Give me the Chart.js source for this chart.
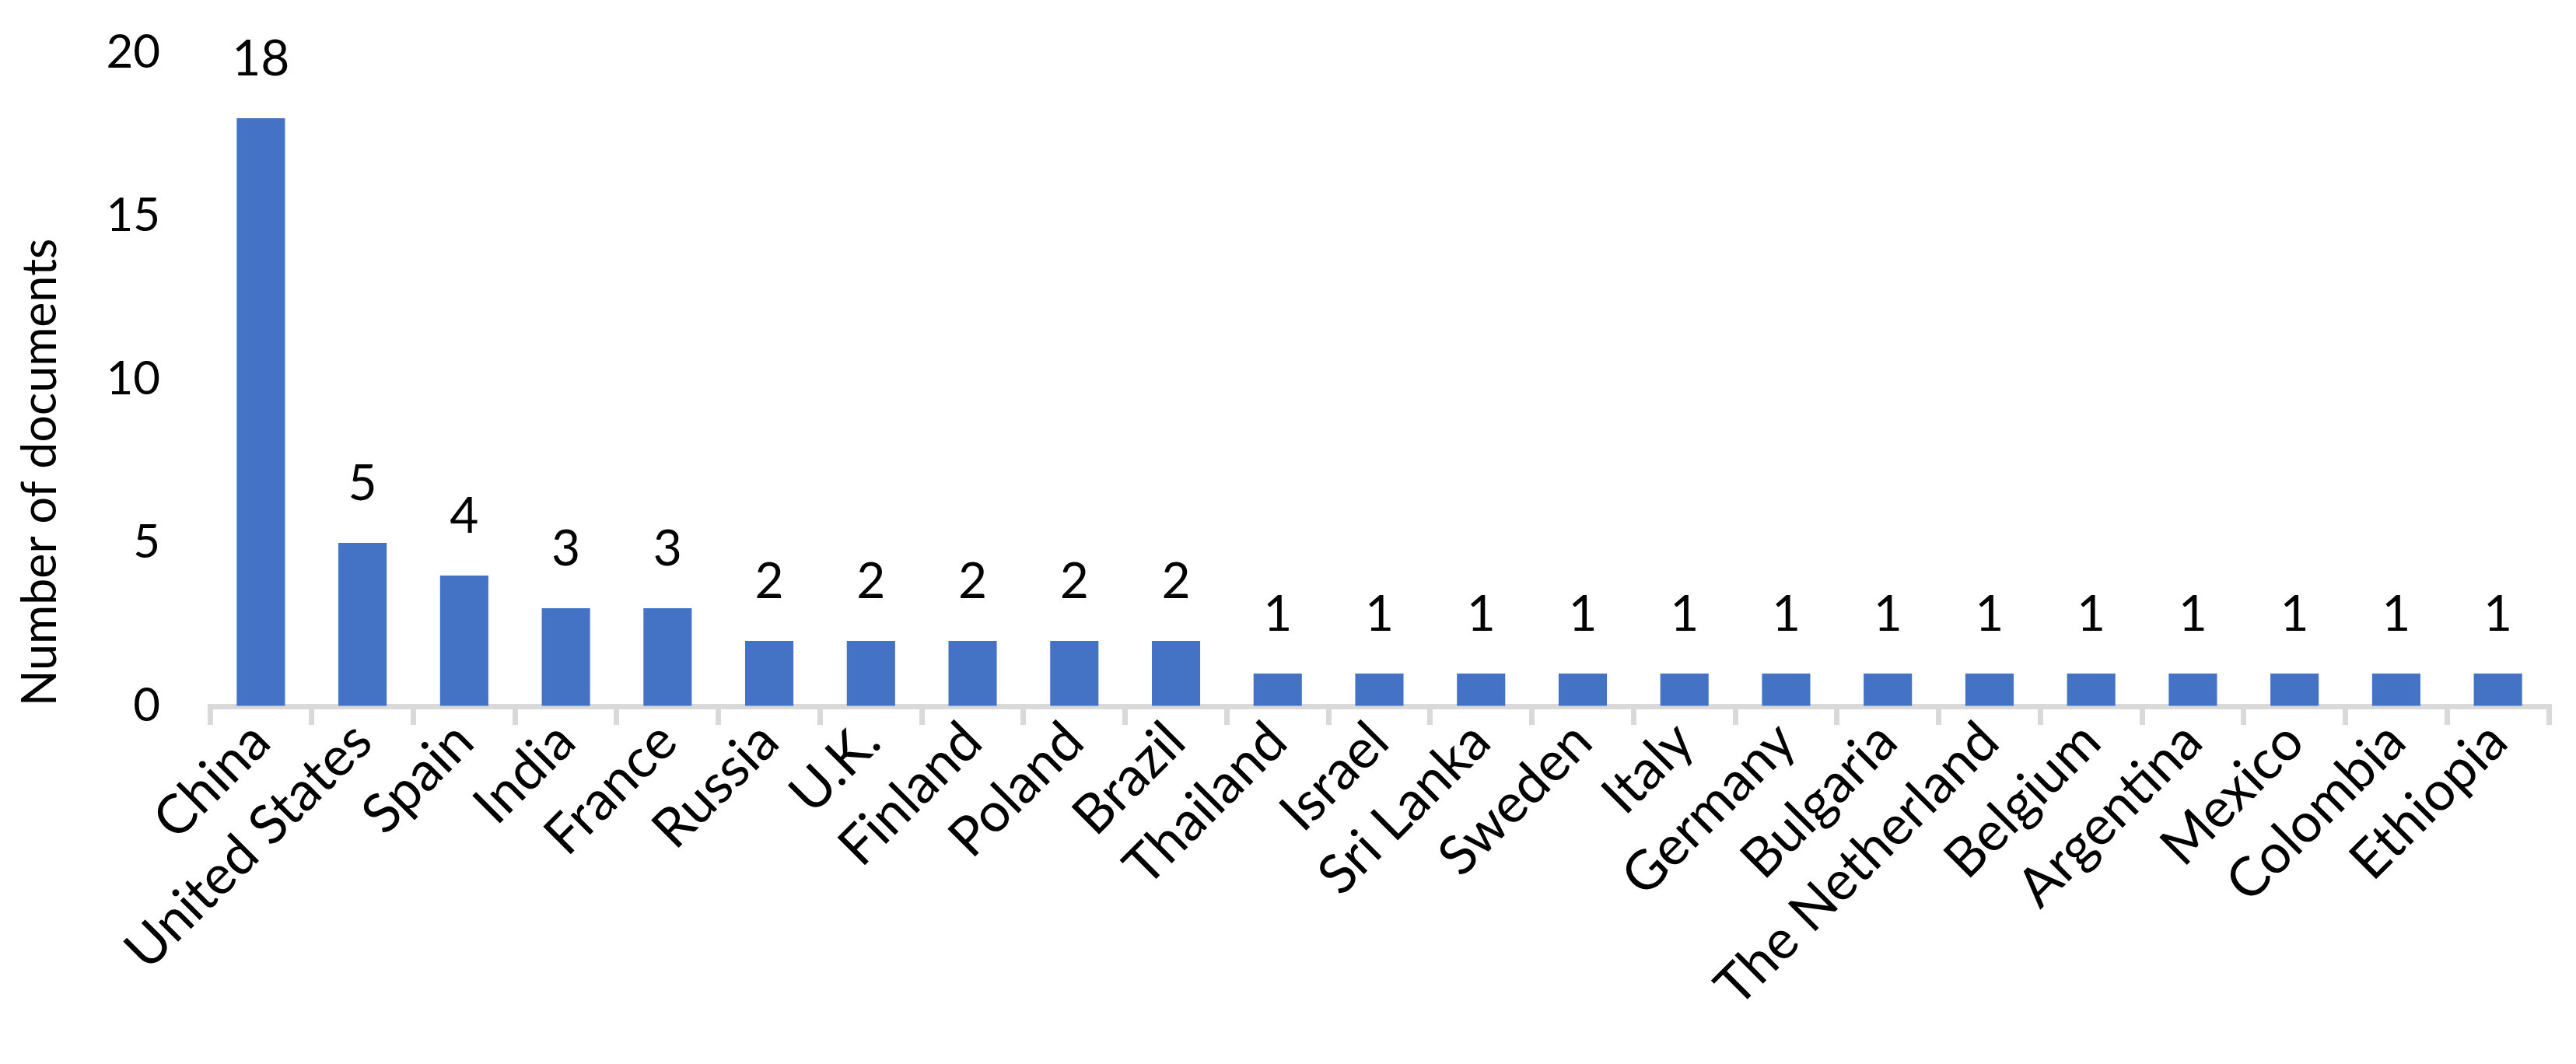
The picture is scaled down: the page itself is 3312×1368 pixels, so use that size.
<!DOCTYPE html>
<html>
<head>
<meta charset="utf-8">
<script src="https://cdn.jsdelivr.net/npm/chart.js@4"></script>
<style>
    html, body { margin: 0; padding: 0; background: #ffffff; }
    #wrap { width: 3312px; height: 1368px; }
</style>
</head>
<body>
<div id="wrap"><canvas id="docChart" width="3312" height="1368"></canvas></div>
<script>
const countries = [
    'China', 'United States', 'Spain', 'India', 'France', 'Russia', 'U.K.',
    'Finland', 'Poland', 'Brazil', 'Thailand', 'Israel', 'Sri Lanka', 'Sweden',
    'Italy', 'Germany', 'Bulgaria', 'The Netherland', 'Belgium', 'Argentina',
    'Mexico', 'Colombia', 'Ethiopia'
];
const documents = [18, 5, 4, 3, 3, 2, 2, 2, 2, 2, 1, 1, 1, 1, 1, 1, 1, 1, 1, 1, 1, 1, 1];
const yTicks = [0, 5, 10, 15, 20];

const FONT = 'Lato, "Open Sans", sans-serif';

// value labels above each bar
const barLabels = {
    id: 'barLabels',
    afterDatasetsDraw(chart) {
        const ctx = chart.ctx;
        const meta = chart.getDatasetMeta(0);
        ctx.save();
        ctx.font = '64px ' + FONT;
        ctx.fillStyle = '#000000';
        ctx.textAlign = 'center';
        ctx.textBaseline = 'alphabetic';
        meta.data.forEach((bar, i) => {
            ctx.fillText(String(documents[i]), bar.x, bar.y - 55);
        });
        ctx.restore();
    }
};

const ctx = document.getElementById('docChart').getContext('2d');

new Chart(ctx, {
    type: 'bar',
    data: {
        labels: countries,
        datasets: [{
            label: 'Number of documents',
            data: documents,
            backgroundColor: '#4472C4',
            borderWidth: 0,
            barPercentage: 0.475,
            categoryPercentage: 1.0
        }]
    },
    options: {
        responsive: false,
        animation: false,
        layout: {
            padding: { left: 0, right: 35, top: 68, bottom: 0 }
        },
        plugins: {
            legend: { display: false },
            tooltip: { enabled: false }
        },
        scales: {
            x: {
                z: 1,
                border: { display: true, color: '#d9d9d9', width: 7 },
                grid: {
                    display: true,
                    drawOnChartArea: false,
                    drawTicks: true,
                    tickLength: 24,
                    color: '#d9d9d9',
                    lineWidth: 7
                },
                ticks: {
                    color: '#000000',
                    font: { family: FONT, size: 70 },
                    minRotation: 45,
                    maxRotation: 45,
                    autoSkip: false,
                    padding: -20
                },
                afterFit(scale) {
                    scale.height = 1368 - 908;
                }
            },
            y: {
                min: 0,
                max: 20,
                border: { display: false },
                // invisible tick marks keep the labels away from the axis
                grid: {
                    display: true,
                    drawOnChartArea: false,
                    drawTicks: true,
                    tickLength: 64,
                    color: 'rgba(0,0,0,0)'
                },
                afterBuildTicks(scale) {
                    scale.ticks = yTicks.map(v => ({ value: v }));
                },
                ticks: {
                    color: '#000000',
                    font: { family: FONT, size: 60 },
                    padding: 0
                },
                title: {
                    display: true,
                    text: 'Number of documents',
                    align: 'start',
                    color: '#000000',
                    font: { family: FONT, size: 61 },
                    padding: { top: 16, bottom: 0 }
                },
                afterFit(scale) {
                    scale.width = 270;
                }
            }
        }
    },
    plugins: [barLabels]
});
</script>
</body>
</html>
